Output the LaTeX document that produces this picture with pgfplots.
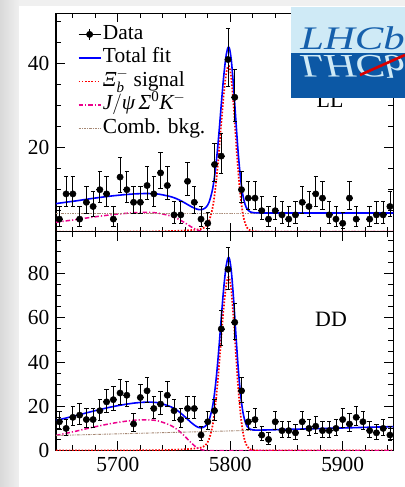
\documentclass[border=0pt]{standalone}
\usepackage{fontspec}
\usepackage{amsmath}
\usepackage{pgfplots}
\usepackage{pgfplotstable}
\pgfplotsset{compat=1.18}
\setmainfont{Liberation Serif}

\definecolor{combc}{RGB}{165,135,115}
\definecolor{lhcblight}{RGB}{207,234,246}
\definecolor{lhcbdark}{RGB}{12,88,165}
\definecolor{lhcbtext}{RGB}{22,96,172}
\newcommand\lblfont{\fontsize{21.5}{24}\selectfont}

% binned candidates, LL sample: mass centre, count, Poisson errors (+/-)
\pgfplotstableread{
m n ep em
5648 3 2.94 1.66
5654 9 4.12 2.96
5660 9 4.12 2.96
5666 3 2.94 1.66
5672 7 3.78 2.60
5678 6 3.60 2.40
5684 10 4.28 3.12
5690 9 4.12 2.96
5696 3 2.94 1.66
5702 13 4.71 3.57
5708 10 4.28 3.12
5714 7 3.78 2.60
5720 7 3.78 2.60
5726 11 4.43 3.28
5732 9 4.12 2.96
5738 14 4.84 3.71
5744 11 4.43 3.28
5750 4 3.18 1.94
5756 4 3.18 1.94
5762 12 4.57 3.43
5768 7 3.78 2.60
5774 3 2.94 1.66
5780 2 2.66 1.32
5786 16 5.09 3.97
5792 18 5.33 4.21
5798 41 7.46 6.38
5804 32 6.72 5.63
5810 10 4.28 3.12
5816 8 3.96 2.78
5822 8 3.96 2.78
5828 5 3.40 2.18
5834 3 2.94 1.66
5840 5 3.40 2.18
5846 4 3.18 1.94
5852 3 2.94 1.66
5858 4 3.18 1.94
5864 7 3.78 2.60
5870 6 3.60 2.40
5876 9 4.12 2.96
5882 8 3.96 2.78
5888 4 3.18 1.94
5894 3 2.94 1.66
5900 2 2.66 1.32
5906 8 3.96 2.78
5912 3 2.94 1.66
5924 3 2.94 1.66
5930 4 3.18 1.94
5936 4 3.18 1.94
5942 6 3.60 2.40
}\dataLL

% binned candidates, DD sample
\pgfplotstableread{
m n ep em
5648 13 4.71 3.57
5654 10 4.28 3.12
5660 15 4.97 3.84
5666 16 5.09 3.97
5672 14 4.84 3.71
5678 14 4.84 3.71
5684 18 5.33 4.21
5690 22 5.77 4.66
5696 23 5.87 4.77
5702 26 6.17 5.07
5708 25 6.07 4.97
5714 12 4.57 3.43
5720 24 5.97 4.87
5726 27 6.27 5.17
5732 19 5.44 4.33
5738 21 5.66 4.56
5744 25 6.07 4.97
5750 18 5.33 4.21
5756 14 4.84 3.71
5762 19 5.44 4.33
5768 19 5.44 4.33
5774 7 3.78 2.60
5780 13 4.71 3.57
5786 18 5.33 4.21
5792 55 8.47 7.40
5798 82 10.10 9.04
5804 58 8.66 7.60
5810 27 6.27 5.17
5816 13 4.71 3.57
5822 14 4.84 3.71
5828 7 3.78 2.60
5834 5 3.40 2.18
5840 13 4.71 3.57
5846 9 4.12 2.96
5852 9 4.12 2.96
5858 8 3.96 2.78
5864 13 4.71 3.57
5870 10 4.28 3.12
5876 11 4.43 3.28
5882 9 4.12 2.96
5888 9 4.12 2.96
5894 10 4.28 3.12
5900 14 4.84 3.71
5906 12 4.57 3.43
5912 15 4.97 3.84
5918 13 4.71 3.57
5924 9 4.12 2.96
5930 8 3.96 2.78
5936 10 4.28 3.12
5942 7 3.78 2.60
}\dataDD

% fit components, LL: signal, J/psi Sigma0 K-, combinatorial, total
\pgfplotstableread{
m sig jps comb tot
5645 0 2.24 4.45 6.69
5655 0 2.61 4.45 7.06
5665 0 2.97 4.45 7.42
5675 0.01 3.37 4.45 7.83
5685 0.01 3.73 4.45 8.19
5695 0.01 4.06 4.45 8.52
5705 0.02 4.32 4.45 8.79
5715 0.03 4.52 4.45 9.00
5725 0.05 4.59 4.45 9.09
5735 0.08 4.46 4.45 8.99
5745 0.14 3.89 4.45 8.48
5750 0.17 3.47 4.45 8.09
5755 0.22 2.84 4.45 7.51
5760 0.29 2.05 4.45 6.79
5765 0.37 1.19 4.45 6.01
5770 0.49 0.46 4.45 5.40
5774 0.66 0.13 4.45 5.24
5778 1.22 0.02 4.45 5.69
5781 2.47 0 4.45 6.92
5784 5.33 0 4.45 9.78
5786 8.67 0 4.45 13.12
5788 13.35 0 4.45 17.80
5790 19.24 0 4.45 23.69
5792 25.83 0 4.45 30.28
5794 32.07 0 4.45 36.52
5796 36.93 0 4.45 41.38
5797.5 39.03 0 4.45 43.48
5798.5 39.50 0 4.45 43.95
5799.5 38.95 0 4.45 43.40
5801 36.22 0 4.45 40.67
5803 29.82 0 4.45 34.27
5805 21.96 0 4.45 26.41
5807 14.50 0 4.45 18.95
5809 8.65 0 4.45 13.10
5811 4.58 0 4.45 9.03
5813 2.21 0 4.45 6.66
5815 0.95 0 4.45 5.40
5818 0.24 0 4.45 4.69
5821 0.06 0 4.45 4.51
5825 0.02 0 4.45 4.47
5830 0 0 4.45 4.45
5845 0 0 4.45 4.45
5870 0 0 4.45 4.45
5895 0 0 4.45 4.45
5920 0 0 4.45 4.45
5945 0 0 4.45 4.45
}\fitLL

% fit components, DD
\pgfplotstableread{
m sig jps comb tot
5645 0 6.8 6.80 13.60
5655 0 7.9 6.93 14.83
5665 0.01 9.0 7.07 16.08
5675 0.01 10.2 7.20 17.41
5685 0.02 11.3 7.33 18.65
5695 0.03 12.3 7.47 19.80
5705 0.04 13.1 7.60 20.74
5715 0.06 13.7 7.73 21.49
5725 0.10 13.9 7.87 21.87
5735 0.16 13.5 8.00 21.66
5745 0.27 11.8 8.13 20.20
5750 0.35 10.5 8.20 19.05
5755 0.45 8.6 8.27 17.32
5760 0.57 6.2 8.33 15.10
5765 0.74 3.6 8.40 12.74
5770 0.97 1.4 8.47 10.84
5774 1.32 0.4 8.52 10.24
5778 2.43 0.05 8.57 11.05
5781 4.91 0 8.61 13.52
5784 10.60 0 8.65 19.25
5786 17.24 0 8.68 25.92
5788 26.53 0 8.71 35.24
5790 38.23 0 8.73 46.96
5792 51.34 0 8.76 60.10
5794 63.74 0 8.79 72.53
5796 73.40 0 8.81 82.21
5797.5 77.56 0 8.83 86.39
5798.5 78.50 0 8.85 87.35
5799.5 77.40 0 8.86 86.26
5801 71.98 0 8.88 80.86
5803 59.27 0 8.91 68.18
5805 43.65 0 8.93 52.58
5807 28.81 0 8.96 37.77
5809 17.19 0 8.99 26.18
5811 9.11 0 9.01 18.12
5813 4.40 0 9.04 13.44
5815 1.88 0 9.07 10.95
5818 0.47 0 9.11 9.58
5821 0.12 0 9.15 9.27
5825 0.03 0 9.20 9.23
5830 0 0 9.27 9.27
5845 0 0 9.47 9.47
5870 0 0 9.80 9.80
5895 0 0 10.13 10.13
5920 0 0 10.47 10.47
5945 0 0 10.80 10.80
}\fitDD

\pgfplotsset{
  massframe/.style={
    scale only axis, width=337.3bp,
    xmin=5645, xmax=5945,
    xtick={5700,5800,5900},
    minor xtick={5660,5680,5720,5740,5760,5780,5820,5840,5860,5880,5920,5940},
    major tick length=9bp, minor tick length=5bp,
    tick style={black, line width=0.9pt},
    axis line style={black, line width=1.1pt},
    tick label style={font=\lblfont},
    yticklabel style={inner sep=0pt, xshift=-6.5bp},
    xticklabel style={inner sep=0pt, yshift=-7bp},
  },
  sigline/.style={red, line width=1.7bp, dash pattern=on 1.6bp off 1.6bp},
  jpsline/.style={magenta, line width=1.5bp, dash pattern=on 4.5bp off 2bp on 1.2bp off 2bp},
  combline/.style={combc, line width=0.9bp, dash pattern=on 2.5bp off 1bp on 0.8bp off 1bp},
  totline/.style={blue, line width=1.6bp},
  xbars/.style={draw=none, mark=none, forget plot,
    error bars/.cd, x dir=both, x fixed=3, error mark=none,
    error bar style={black, line width=0.8pt}},
  ybars/.style={only marks, mark=*, mark size=3.2bp, black, forget plot,
    error bars/.cd, y dir=both, y explicit, error mark=-,
    error mark options={black, line width=0.8pt, mark size=2.2bp, rotate=90},
    error bar style={black, line width=0.8pt}},
}

\begin{document}
\begin{tikzpicture}
% page background
\fill[gray!12] (0,0) rectangle (405bp,487bp);
\shade[left color=gray!30, right color=gray!12] (0,0) rectangle (19bp,487bp);
\fill[white] (19bp,0) rectangle (405bp,481bp);

% LL panel
\begin{axis}[massframe,
  at={(56bp,255.3bp)}, anchor=south west, height=218.4bp,
  ymin=0, ymax=52,
  ytick={20,40}, yticklabels={20,40},
  minor ytick={5,10,15,25,30,35,45,50},
  xticklabels={},
  legend image code/.code={\draw (0bp,0bp) -- (22bp,0bp);},
  legend cell align=left,
  legend style={at={(axis description cs:0.064,0.958)}, anchor=north west,
    draw=none, fill=none, inner sep=0pt, row sep=0pt, column sep=0pt,
    font=\lblfont,
    nodes={inner sep=1.5bp, text height=15bp, text depth=5.5bp}},
]
\addlegendimage{legend image code/.code={
  \draw[black, line width=0.8pt] (0bp,0bp) -- (22bp,0bp);
  \draw[black, line width=0.8pt] (11bp,-5.5bp) -- (11bp,5.5bp);
  \fill[black] (11bp,0bp) circle[radius=3.2bp];}}
\addlegendentry{Data}
\addlegendimage{totline}
\addlegendentry{Total fit}
\addlegendimage{sigline}
\addlegendentry{$\textit{Ξ}_{\textit{b}}^{-}$ signal}
\addlegendimage{jpsline}
\addlegendentry{$\textit{J}/\textit{ψ}\,\textit{Σ}^{\text{0}}\textit{K}^{-}$}
\addlegendimage{combline}
\addlegendentry{Comb. bkg.}

\addplot[sigline, smooth, forget plot] table[x=m, y=sig] {\fitLL};
\addplot[jpsline, smooth, forget plot] table[x=m, y=jps] {\fitLL};
\addplot[combline, forget plot] table[x=m, y=comb] {\fitLL};
\addplot[totline, smooth, forget plot] table[x=m, y=tot] {\fitLL};
\addplot[xbars] table[x=m, y=n] {\dataLL};
\addplot[ybars] table[x=m, y=n, y error plus=ep, y error minus=em] {\dataLL};
\end{axis}

% DD panel
\begin{axis}[massframe,
  at={(56bp,36.5bp)}, anchor=south west, height=218.8bp,
  ymin=0, ymax=99,
  ytick={0,20,40,60,80}, yticklabels={0,20,40,60,80},
  minor ytick={5,10,15,25,30,35,45,50,55,65,70,75,85,90,95},
  xticklabels={5700,5800,5900},
]
\addplot[sigline, smooth] table[x=m, y=sig] {\fitDD};
\addplot[jpsline, smooth] table[x=m, y=jps] {\fitDD};
\addplot[combline] table[x=m, y=comb] {\fitDD};
\addplot[totline, smooth] table[x=m, y=tot] {\fitDD};
\addplot[xbars] table[x=m, y=n] {\dataDD};
\addplot[ybars] table[x=m, y=n, y error plus=ep, y error minus=em] {\dataDD};
\end{axis}

% sample labels
\node[font=\fontsize{22}{24}\selectfont, anchor=base, inner sep=0pt] at (330bp,379bp) {LL};
\node[font=\fontsize{22}{24}\selectfont, anchor=base, inner sep=0pt] at (331bp,160bp) {DD};

% experiment logo
\begin{scope}
\clip (291bp,389bp) rectangle (405bp,480bp);
\fill[lhcblight] (291bp,434bp) rectangle (405bp,480bp);
\fill[lhcbdark] (291bp,389bp) rectangle (405bp,434bp);
\node[anchor=base west, inner sep=0pt, text=lhcbtext, xscale=1.3,
  font=\fontsize{33}{33}\selectfont\itshape] at (300bp,437bp) {LHCb};
\node[anchor=base west, inner sep=0pt, text=lhcblight, xscale=1.3, yscale=-1,
  font=\fontsize{33}{33}\selectfont\itshape] at (300bp,431bp) {LHCb};
\draw[red!85!black, line width=2.6bp] (360bp,412bp) -- (405bp,432bp);
\end{scope}

\pgfresetboundingbox
\useasboundingbox (0,0) rectangle (405bp,487bp);
\end{tikzpicture}
\end{document}
